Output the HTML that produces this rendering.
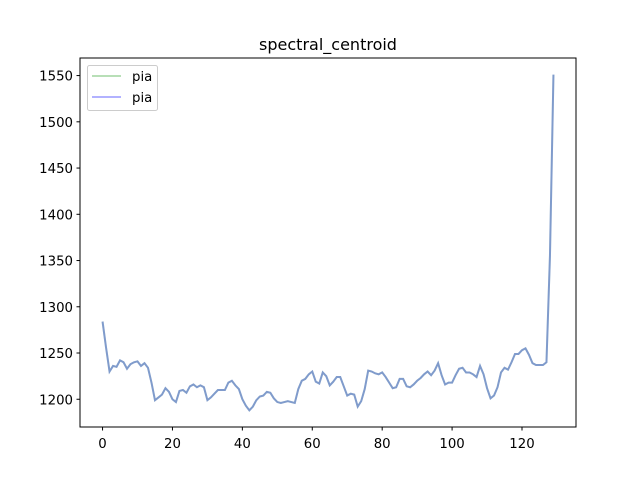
<!DOCTYPE html>
<html><head><meta charset="utf-8"><style>
body{margin:0;background:#fff;}
svg text{font-family:"DejaVu Sans","Liberation Sans",sans-serif;}
</style></head><body>
<svg id="chart" width="640" height="480" xmlns="http://www.w3.org/2000/svg">
<rect width="640" height="480" fill="#fff"/>
<text x="328" y="50" text-anchor="middle" font-size="16">spectral_centroid</text>
<g id="plot"></g>
<rect x="80" y="58" width="496" height="369" fill="none" stroke="#000" stroke-width="1"/>
<g id="xticks"></g>
<g id="yticks"></g>
<g>
<rect x="87.5" y="65.5" width="70" height="45" rx="2" fill="#fff" fill-opacity="0.8" stroke="#ccc"/>
<line x1="92" y1="76" x2="121" y2="76" stroke="#4daf4a" stroke-opacity="0.4" stroke-width="2"/>
<text x="132" y="81" font-size="13.3">pia</text>
<line x1="92" y1="97" x2="121" y2="97" stroke="#0000ff" stroke-opacity="0.3" stroke-width="2"/>
<text x="132" y="102" font-size="13.3">pia</text>
</g>
</svg>
<script>
const vals=[1284,1256,1230,1236,1235,1242,1240,1233,1238,1240,1241,1236,1239,1234,1218,1199,1202,1205,1212,1208,1200,1197,1209,1210,1207,1214,1216,1213,1215,1213,1199,1202,1206,1210,1210,1210,1218,1220,1215,1211,1200,1193,1188,1192,1199,1203,1204,1208,1207,1201,1197,1196,1197,1198,1197,1196,1211,1220,1222,1227,1230,1219,1217,1229,1225,1215,1219,1224,1224,1214,1204,1206,1205,1192,1198,1211,1231,1230,1228,1227,1229,1224,1218,1212,1213,1222,1222,1214,1213,1216,1220,1223,1227,1230,1226,1231,1239,1226,1216,1218,1218,1226,1233,1234,1229,1229,1227,1224,1236,1227,1212,1201,1204,1213,1229,1234,1232,1240,1249,1249,1253,1255,1248,1239,1237,1237,1237,1240,1355,1551];
const xTickVals=[0,20,40,60,80,100,120];
const yTickVals=[1200,1250,1300,1350,1400,1450,1500,1550];
const NS="http://www.w3.org/2000/svg";
const n=vals.length-1;
const xmin=-0.05*n,xmax=n*1.05,ymin=1170,ymax=1569;
function sx(v){return 80+(v-xmin)/(xmax-xmin)*496;}
function sy(v){return 427-(v-ymin)/(ymax-ymin)*369;}
function mk(t,a){const e=document.createElementNS(NS,t);for(const k in a)e.setAttribute(k,a[k]);return e;}
const plot=document.getElementById('plot');
const pts=vals.map((v,i)=>sx(i).toFixed(2)+','+sy(v).toFixed(2)).join(' ');
const l1=mk('polyline',{points:pts,fill:'none',stroke:'#4daf4a','stroke-opacity':'0.4','stroke-width':'2'});


plot.appendChild(l1);
const l2=mk('polyline',{points:pts,fill:'none',stroke:'#0000ff','stroke-opacity':'0.3','stroke-width':'2'});


plot.appendChild(l2);
const xg=document.getElementById('xticks');
xTickVals.forEach(v=>{
 const x=sx(v);
 const t=mk('line',{x1:x,y1:427,x2:x,y2:430.5,stroke:'#000'});
 
 
 xg.appendChild(t);
 const tx=mk('text',{x:x,y:448,'text-anchor':'middle','font-size':'13.3'});
 tx.textContent=v;
 
 
 xg.appendChild(tx);
});
const yg=document.getElementById('yticks');
yTickVals.forEach(v=>{
 const y=sy(v);
 const t=mk('line',{x1:76.5,y1:y,x2:80,y2:y,stroke:'#000'});
 
 
 yg.appendChild(t);
 const tx=mk('text',{x:73,y:y+5,'text-anchor':'end','font-size':'13.3'});
 tx.textContent=v;
 
 
 yg.appendChild(tx);
});
</script>
</body></html>
